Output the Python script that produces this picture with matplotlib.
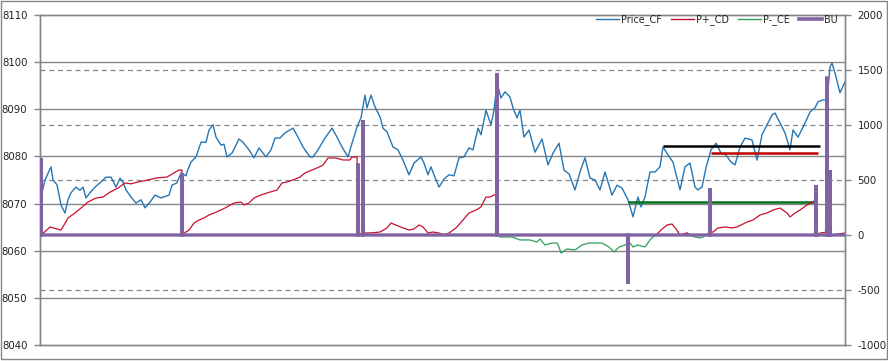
import numpy as np
import matplotlib
matplotlib.use("Agg")
import matplotlib.pyplot as plt
import matplotlib.transforms as mtransforms
from matplotlib.patches import Rectangle
from matplotlib.lines import Line2D

plt.rcParams['axes.unicode_minus'] = False

# Price_CF (left axis), sample index -> price
price_t = [41, 45, 51, 53, 57, 61, 65, 68, 71, 76, 80, 83, 86, 90, 95, 100, 106, 111, 116, 120,
           123, 126, 131, 136, 141, 145, 150, 155, 161, 169, 172, 177, 181, 186, 187, 191, 196, 201, 206, 209,
           213, 216, 221, 224, 227, 232, 239, 243, 249, 254, 259, 266, 271, 275, 280, 285, 293, 298, 303, 310,
           313, 318, 325, 332, 337, 342, 348, 352, 357, 361, 365, 367, 371, 375, 380, 383, 387, 393, 398, 403,
           409, 414, 421, 424, 428, 431, 434, 439, 444, 449, 454, 459, 464, 469, 473, 478, 481, 486, 491, 494,
           497, 501, 505, 510, 513, 517, 520, 524, 529, 535, 542, 548, 553, 559, 564, 569, 575, 580, 585, 590,
           595, 600, 605, 612, 617, 622, 628, 633, 638, 641, 645, 650, 655, 660, 663, 668, 673, 680, 685, 690,
           695, 698, 702, 706, 711, 716, 721, 726, 731, 735, 740, 745, 752, 757, 762, 767, 772, 775, 780, 785,
           790, 793, 798, 803, 810, 815, 818, 823, 827, 830, 832, 835, 840, 845]
price_v = [8071.4, 8075.0, 8077.8, 8075.0, 8074.0, 8069.7, 8068.0, 8070.8, 8072.3, 8073.5, 8072.8, 8073.5, 8071.2, 8072.3, 8073.5, 8074.4, 8075.6, 8075.6, 8073.5, 8075.4,
           8074.5, 8072.9, 8071.4, 8070.1, 8070.8, 8069.1, 8070.3, 8071.8, 8071.2, 8071.8, 8073.9, 8074.4, 8076.5, 8075.9, 8076.7, 8078.8, 8079.9, 8083.0, 8083.0, 8085.6,
           8086.7, 8084.1, 8082.4, 8082.6, 8079.9, 8080.7, 8083.7, 8083.0, 8081.4, 8079.7, 8081.8, 8079.9, 8081.4, 8083.9, 8083.9, 8085.0, 8086.0, 8084.1, 8082.0, 8079.9,
           8079.9, 8081.4, 8083.9, 8086.0, 8084.1, 8082.0, 8079.9, 8082.8, 8086.2, 8088.2, 8093.0, 8090.3, 8093.0, 8090.5, 8088.4, 8086.0, 8085.2, 8082.0, 8081.4, 8079.2,
           8076.1, 8078.6, 8079.9, 8078.6, 8076.1, 8077.8, 8076.1, 8073.5, 8075.2, 8076.1, 8075.9, 8079.7, 8079.9, 8081.8, 8081.4, 8086.0, 8084.6, 8089.8, 8086.7, 8089.8,
           8095.6, 8092.4, 8093.7, 8092.6, 8090.3, 8088.2, 8089.8, 8084.1, 8085.6, 8080.9, 8083.7, 8078.2, 8080.7, 8082.8, 8077.1, 8076.3, 8072.9, 8076.7, 8079.7, 8075.4,
           8075.0, 8072.9, 8076.7, 8071.8, 8073.9, 8073.3, 8070.8, 8067.2, 8071.4, 8069.3, 8071.4, 8076.7, 8076.7, 8077.8, 8082.0, 8080.3, 8078.8, 8072.9, 8077.8, 8078.6,
           8073.5, 8072.9, 8073.5, 8077.6, 8081.4, 8082.8, 8080.7, 8080.3, 8078.8, 8078.2, 8082.0, 8083.9, 8083.5, 8079.2, 8084.6, 8086.7, 8088.8, 8089.2, 8087.1, 8085.0,
           8081.4, 8085.6, 8084.1, 8086.2, 8089.4, 8090.3, 8091.6, 8092.0, 8092.0, 8099.0, 8099.8, 8097.7, 8093.5, 8095.8]

# P+_CD (right axis)
cd_t = [41, 45, 50, 55, 61, 64, 68, 75, 81, 88, 96, 103, 110, 118, 125, 131, 138, 148, 156, 167,
        174, 179, 182, 183, 189, 194, 199, 204, 209, 214, 221, 227, 234, 241, 244, 249, 254, 261, 267, 277,
        282, 287, 293, 300, 305, 312, 317, 323, 328, 336, 343, 350, 352, 357, 358, 365, 372, 380, 387, 391,
        396, 403, 409, 414, 419, 423, 428, 433, 439, 444, 449, 456, 463, 469, 476, 481, 486, 490, 494, 496,
        497, 656, 661, 667, 672, 676, 680, 687, 690, 706, 710, 713, 718, 725, 732, 737, 747, 753, 760, 767,
        773, 780, 787, 790, 795, 800, 807, 813, 815, 816, 820, 827, 833, 838, 845]
cd_v = [0, 30, 73, 60, 45, 90, 155, 200, 245, 300, 336, 345, 390, 427, 473, 465, 482, 500, 518, 527,
        564, 591, 591, 10, 45, 109, 136, 155, 182, 200, 227, 255, 291, 300, 273, 291, 336, 364, 382, 409,
        473, 482, 500, 527, 564, 591, 609, 636, 700, 700, 682, 682, 709, 709, 10, 18, 20, 27, 64, 109,
        90, 64, 45, 55, 91, 73, 18, 27, 18, 0, 18, 64, 136, 200, 227, 255, 345, 345, 364, 364,
        0, 0, 45, 91, 100, 55, 0, 20, 0, 0, 20, 27, 64, 73, 64, 73, 118, 136, 182, 200,
        227, 245, 200, 164, 200, 227, 273, 300, 318, 0, 18, 27, 0, 10, 18]

# P-_CE (right axis)
ce_t = [497, 500, 512, 520, 530, 537, 540, 545, 552, 557, 559, 561, 567, 575, 582, 589, 602, 609, 614, 619,
        625, 630, 633, 638, 645, 650, 653, 656, 690, 695, 700, 703, 706]
ce_v = [0, -18, -18, -45, -45, -64, -36, -91, -73, -73, -109, -164, -127, -136, -91, -73, -73, -109, -155, -109,
        -91, -73, -109, -91, -109, -45, -18, 0, 0, -18, -27, -18, 0]

# BU (right axis): zero except for spikes
bu_spike_t = [41, 182, 358, 363, 497, 628, 710, 816, 827, 830]
bu_spike_v = [700, 560, 650, 1045, 1473, -445, 427, 455, 1440, 590]
t_start, t_end = 40, 845

# annotation levels drawn on the price axis
lvl_price = [8082.2, 8080.7, 8070.3]
lvl_from = [663, 711, 628]
lvl_to = [820, 818, 816]
lvl_colors = ['#000000', '#c00000', '#00701a']

grid_col = '#868686'
txt_col = '#222222'

fig = plt.figure(figsize=(8.88, 3.61), dpi=100)
ax = fig.add_axes([40 / 888, 16 / 361, 805 / 888, 330 / 361])
ax2 = ax.twinx()

ax.set_xlim(t_start, t_end)
ax.set_ylim(8040, 8110)
ax2.set_ylim(-1000, 2000)
ax.set_yticks(np.arange(8040, 8111, 10))
ax2.set_yticks(np.arange(-1000, 2001, 500))
ax.set_xticks([])

# solid gridlines (left), dashed gridlines (right) kept under the price line
for v in range(8050, 8110, 10):
    ax.axhline(v, color=grid_col, lw=1.0, zorder=0.5)
blend = mtransforms.blended_transform_factory(ax.transAxes, ax2.transData)
for v in [-500, 500, 1000, 1500]:
    ax.add_line(Line2D([0, 1], [v, v], transform=blend, color=grid_col, lw=0.9,
                       linestyle=(0, (4, 3)), zorder=0.5))

ax.plot(price_t, price_v, color='#2576b4', lw=1.0, zorder=2)

for p, a, b, c in zip(lvl_price, lvl_from, lvl_to, lvl_colors):
    ax.hlines(p, a, b, color=c, lw=1.8, zorder=3)

ax2.plot(cd_t, cd_v, color='#c8102e', lw=0.9, zorder=2)
ax2.plot(ce_t, ce_v, color='#2ca05a', lw=0.9, zorder=2)

bu_x = [t_start]
bu_y = [0]
for t, h in zip(bu_spike_t, bu_spike_v):
    bu_x += [t - 0.4, t, t + 0.4]
    bu_y += [0, h, 0]
bu_x.append(t_end)
bu_y.append(0)
ax2.plot(bu_x, bu_y, color='#8064a2', lw=2.4, zorder=3, solid_joinstyle='miter')

for a in (ax, ax2):
    for s in a.spines.values():
        s.set_color(grid_col)
        s.set_linewidth(1.0)
    a.tick_params(axis='y', length=4, width=1, color=grid_col, labelsize=7.3,
                  labelcolor=txt_col, pad=5)
ax.tick_params(axis='x', length=0)

handles = [Line2D([], [], color='#2576b4', lw=1.0),
           Line2D([], [], color='#c8102e', lw=1.0),
           Line2D([], [], color='#2ca05a', lw=1.0),
           Line2D([], [], color='#8064a2', lw=2.6)]
labels = ['Price_CF', 'P+_CD', 'P-_CE', 'BU']
leg = ax2.legend(handles, labels, loc='center left',
                 bbox_to_anchor=(596 / 888, 1 - 20 / 361), bbox_transform=fig.transFigure,
                 ncol=4, frameon=False, fontsize=6.9, handlelength=2.4, handletextpad=0.2,
                 columnspacing=0.95, borderpad=0, borderaxespad=0, labelcolor=txt_col)
leg.set_zorder(10)

fig.patches.append(Rectangle((0.5 / 888, 2.5 / 361), 886 / 888, 358 / 361,
                             transform=fig.transFigure, fill=False,
                             edgecolor=grid_col, lw=1.0))

fig.savefig('out.png', dpi=100)
